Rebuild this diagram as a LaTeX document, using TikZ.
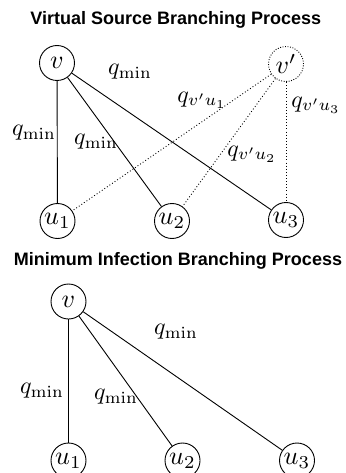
\documentclass[tikz,border=0pt]{standalone}
\usepackage{graphicx}
\usepackage[no-math]{fontspec}
\newfontfamily\titlefont{Liberation Sans}
\newcommand{\lgm}[1]{\scalebox{2.4}{$#1$}}
\newcommand{\vxm}[1]{\scalebox{2.6}{$#1$}}
\tikzset{
  vert/.style={circle,draw,line width=0.9pt,minimum size=35pt,inner sep=0pt},
  vvert/.style={vert,dash pattern=on 0.9pt off 1.6pt},
  edge/.style={line width=0.9pt},
  dedge/.style={line width=0.9pt,dash pattern=on 0.9pt off 2.2pt},
  lab/.style={inner sep=0pt},
  ttl/.style={inner sep=0pt,anchor=base,font=\titlefont\bfseries\fontsize{18}{22}\selectfont}
}
\begin{document}
\begin{tikzpicture}[x=1pt,y=-1pt]
\useasboundingbox (0,0) rectangle (345,473);
% top
\node[ttl] (t1) at (175.8,25) {Virtual Source Branching Process};
\node[vert] (v) at (57,63) {\vxm{v}};
\node[vvert] (vp) at (286,64) {\vxm{v'}};
\node[vert] (a1) at (57.5,221) {\vxm{u_1}};
\node[vert] (a2) at (172,221) {\vxm{u_2}};
\node[vert] (a3) at (286,220) {\vxm{u_3}};
\draw[edge] (v) -- (a1);
\draw[edge] (v) -- (a2);
\draw[edge] (v) -- (a3);
\draw[dedge] (vp) -- (a1);
\draw[dedge] (vp) -- (a2);
\draw[dedge] (vp) -- (a3);
\node[lab] (l1) at (130,72) {\lgm{q_{\min}}};
\node[lab] (l2) at (34,133) {\lgm{q_{\min}}};
\node[lab] (l3) at (96,142) {\lgm{q_{\min}}};
\node[lab] (l4) at (202,100) {\lgm{q_{v'u_1}}};
\node[lab] (l5) at (316,105) {\lgm{q_{v'u_3}}};
\node[lab] (l6) at (252,154) {\lgm{q_{v'u_2}}};
% bottom
\node[ttl] (t2) at (178,265) {Minimum Infection Branching Process};
\node[vert] (w) at (68.5,301.5) {\vxm{v}};
\node[vert] (b1) at (68.5,460.5) {\vxm{u_1}};
\node[vert] (b2) at (182.5,460.5) {\vxm{u_2}};
\node[vert] (b3) at (297,460.5) {\vxm{u_3}};
\draw[edge] (w) -- (b1);
\draw[edge] (w) -- (b2);
\draw[edge] (w) -- (b3);
\node[lab] (m1) at (176,332) {\lgm{q_{\min}}};
\node[lab] (m2) at (42,391) {\lgm{q_{\min}}};
\node[lab] (m3) at (116,397) {\lgm{q_{\min}}};
\end{tikzpicture}
\end{document}
